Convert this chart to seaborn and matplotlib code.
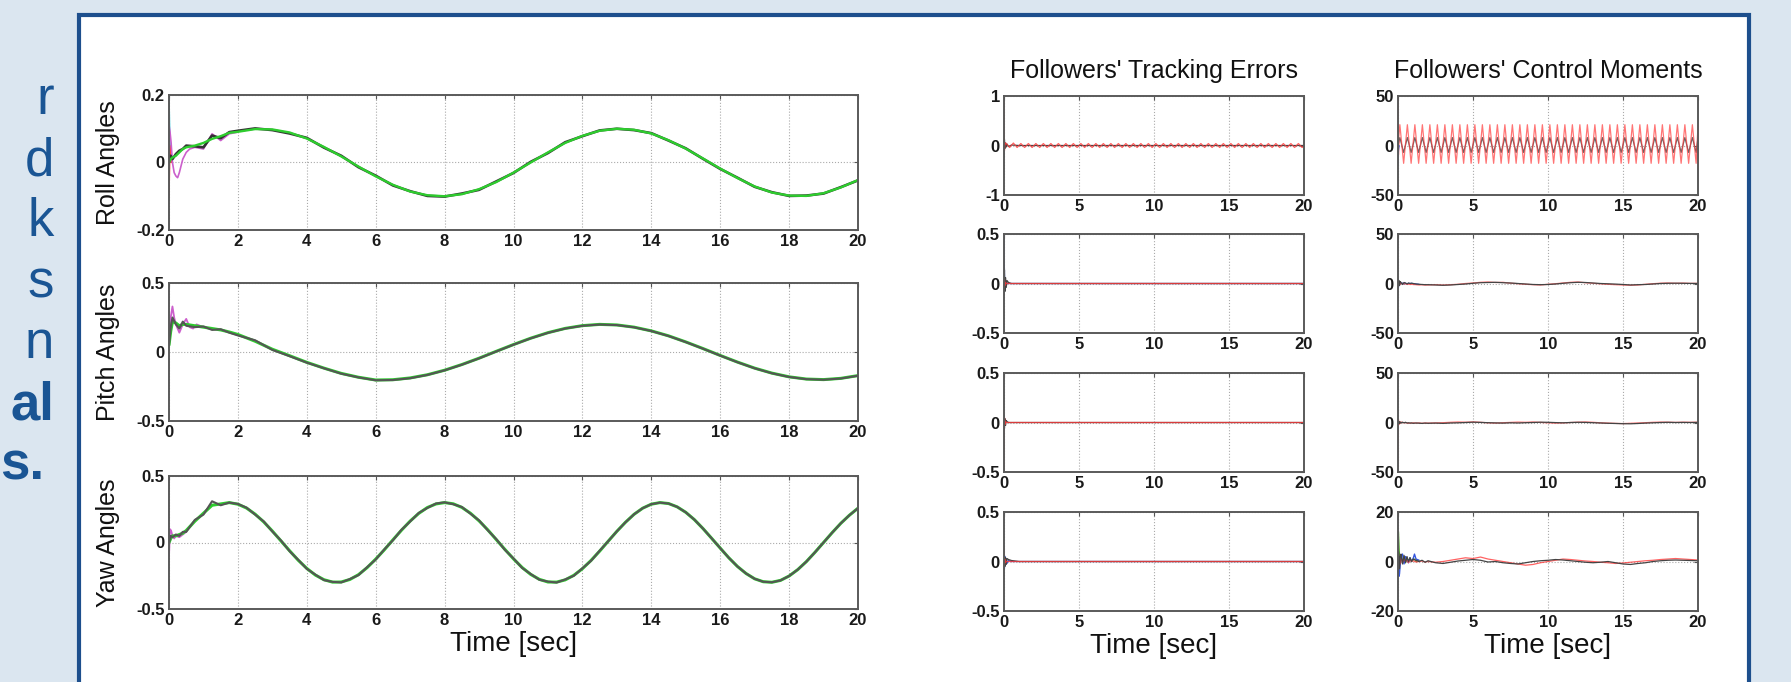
import numpy as np
import matplotlib
matplotlib.use("Agg")
import matplotlib.pyplot as plt
from matplotlib.patches import Rectangle
import seaborn as sns

# ---------------- data ----------------
# left column: leader/follower attitude angles
t_early = [0, 0.05, 0.1, 0.2, 0.3, 0.4, 0.5, 0.75, 1.0, 1.25, 1.5, 1.75]
t_left = np.concatenate([t_early, np.arange(2.0, 20.01, 0.5)])
t_yaw = np.concatenate([t_early, np.arange(2.0, 20.01, 0.25)])

roll_green = [0.0, 0.01, 0.015, 0.02, 0.03, 0.04, 0.045, 0.05, 0.058, 0.07, 0.078, 0.088,
              0.091, 0.099, 0.098, 0.089, 0.071, 0.046, 0.018, -0.012, -0.041, -0.066,
              -0.086, -0.097, -0.100, -0.094, -0.079, -0.058, -0.030, 0.000, 0.030, 0.058,
              0.079, 0.094, 0.100, 0.097, 0.086, 0.066, 0.041, 0.012, -0.018, -0.046,
              -0.071, -0.089, -0.098, -0.099, -0.091, -0.074, -0.052]
roll_dark = [0.0, 0.02, 0.01, 0.025, 0.035, 0.04, 0.05, 0.048, 0.045, 0.08, 0.072, 0.09,
             0.094, 0.101, 0.096, 0.086, 0.073, 0.044, 0.020, -0.014, -0.039, -0.068,
             -0.085, -0.099, -0.101, -0.092, -0.081, -0.056, -0.031, 0.002, 0.028, 0.060,
             0.078, 0.095, 0.100, 0.096, 0.087, 0.065, 0.042, 0.011, -0.019, -0.045,
             -0.072, -0.088, -0.099, -0.098, -0.092, -0.073, -0.053]
t_roll_mag = [0, 0.03, 0.06, 0.1, 0.15, 0.2, 0.25, 0.3, 0.35, 0.4, 0.5, 0.6, 0.75, 1.0, 1.25, 1.5, 1.75, 2.0]
roll_mag = [0.11, 0.09, 0.06, 0.0, -0.03, -0.04, -0.045, -0.03, -0.01, 0.01, 0.03, 0.04,
            0.045, 0.04, 0.085, 0.065, 0.085, 0.09]
t_spike = [0, 0.03, 0.07]
roll_cyan = [0.2, 0.06, 0.02]
roll_red = [-0.1, 0.05, 0.0]

pitch_green = [0.05, 0.15, 0.22, 0.21, 0.19, 0.2, 0.2, 0.19, 0.18, 0.17, 0.16, 0.145,
               0.127, 0.078, 0.020, -0.027, -0.075, -0.117, -0.155, -0.183, -0.203,
               -0.201, -0.188, -0.165, -0.132, -0.091, -0.045, 0.005, 0.054, 0.100, 0.140,
               0.171, 0.191, 0.200, 0.196, 0.180, 0.153, 0.117, 0.073, 0.025, -0.025,
               -0.073, -0.117, -0.153, -0.180, -0.196, -0.200, -0.191, -0.171]
pitch_dark = [0.05, 0.18, 0.25, 0.2, 0.17, 0.22, 0.19, 0.18, 0.185, 0.16, 0.165, 0.14,
              0.12, 0.085, 0.015, -0.03, -0.077, -0.118, -0.157, -0.184, -0.205,
              -0.203, -0.19, -0.166, -0.133, -0.092, -0.046, 0.004, 0.053, 0.099, 0.139,
              0.170, 0.190, 0.199, 0.195, 0.179, 0.152, 0.116, 0.072, 0.024, -0.026,
              -0.074, -0.118, -0.154, -0.181, -0.197, -0.201, -0.192, -0.172]
t_pitch_mag = [0, 0.05, 0.1, 0.15, 0.2, 0.3, 0.4, 0.5, 0.6, 0.7, 0.8, 1.0]
pitch_mag = [0.1, 0.25, 0.33, 0.25, 0.2, 0.14, 0.2, 0.24, 0.18, 0.17, 0.2, 0.18]

yaw_green = [0.0, 0.03, 0.05, 0.05, 0.06, 0.07, 0.09, 0.16, 0.22, 0.28, 0.29, 0.30,
             0.288, 0.259, 0.213, 0.155, 0.086, 0.012, -0.062, -0.133,
             -0.195, -0.245, -0.280, -0.298, -0.297, -0.278, -0.242, -0.189,
             -0.125, -0.055, 0.020, 0.093, 0.161, 0.219, 0.263, 0.290,
             0.300, 0.291, 0.264, 0.220, 0.163, 0.096, 0.022, -0.052,
             -0.123, -0.188, -0.240, -0.277, -0.297, -0.298, -0.281, -0.247,
             -0.197, -0.135, -0.065, 0.010, 0.084, 0.152, 0.212, 0.258,
             0.288, 0.300, 0.293, 0.268, 0.227, 0.172, 0.105, 0.032,
             -0.042, -0.115, -0.180, -0.233, -0.273, -0.295, -0.299, -0.285,
             -0.252, -0.204, -0.144, -0.074, 0.000, 0.074, 0.144, 0.205, 0.258]
yaw_dark = [0.0, 0.05, 0.04, 0.06, 0.05, 0.08, 0.08, 0.17, 0.21, 0.31, 0.28, 0.30,
            0.29, 0.262, 0.21, 0.158, 0.083, 0.015, -0.065, -0.13,
            -0.198, -0.242, -0.283, -0.296, -0.30, -0.275, -0.245, -0.186,
            -0.128, -0.052, 0.017, 0.096, 0.158, 0.222, 0.26, 0.293,
            0.302, 0.288, 0.267, 0.217, 0.166, 0.093, 0.025, -0.055,
            -0.12, -0.191, -0.237, -0.280, -0.294, -0.301, -0.278, -0.25,
            -0.194, -0.138, -0.062, 0.010, 0.084, 0.152, 0.212, 0.258,
            0.288, 0.300, 0.293, 0.268, 0.227, 0.172, 0.105, 0.032,
            -0.042, -0.115, -0.180, -0.233, -0.273, -0.295, -0.299, -0.285,
            -0.252, -0.204, -0.144, -0.074, 0.000, 0.074, 0.144, 0.205, 0.258]
t_yaw_mag = [0, 0.03, 0.06, 0.1, 0.15, 0.2, 0.3, 0.4, 0.5]
yaw_mag = [-0.1, 0.1, 0.09, 0.05, 0.03, 0.05, 0.04, 0.06, 0.08]

# right columns
t_osc = np.concatenate([[0], np.arange(0.125, 20, 0.25), [20]])
t_right = np.concatenate([[0, 0.03, 0.06, 0.1, 0.15, 0.2, 0.3, 0.4, 0.5, 0.6, 0.7, 0.8,
                           0.9, 1.0, 1.2, 1.4, 1.6, 1.8], np.arange(2.0, 20.01, 0.5)])
t_short = [0, 0.03, 0.06, 0.1, 0.15, 0.2, 0.3, 0.5, 1.0, 20]
t_init = [0, 0.03, 0.06, 0.1, 0.15, 0.2, 0.3, 0.4, 0.5, 0.6, 0.7, 0.8, 0.9, 1.0, 1.1, 1.2, 1.4]

# tracking errors
te1_red = [0,
           0.05, -0.04, 0.05, -0.04, 0.04, -0.04, 0.04, -0.04,
           0.04, -0.04, 0.04, -0.04, 0.04, -0.04, 0.04, -0.04,
           0.04, -0.04, 0.04, -0.04, 0.04, -0.04, 0.04, -0.04,
           0.04, -0.04, 0.04, -0.04, 0.04, -0.04, 0.04, -0.04,
           0.04, -0.04, 0.04, -0.04, 0.04, -0.04, 0.04, -0.04,
           0.04, -0.04, 0.04, -0.04, 0.04, -0.04, 0.04, -0.04,
           0.04, -0.04, 0.04, -0.04, 0.04, -0.04, 0.04, -0.04,
           0.04, -0.04, 0.04, -0.04, 0.04, -0.04, 0.04, -0.04,
           0.04, -0.04, 0.04, -0.04, 0.04, -0.04, 0.04, -0.04,
           0.04, -0.04, 0.04, -0.04, 0.04, -0.04, 0.04, -0.04,
           0]
te1_spike_red = [0.9, -0.1, 0.05]
te1_dark = [-0.25, 0.12, -0.06, 0.05, -0.03, 0.03, -0.02, 0.01, 0.0, 0.0]
te2_blue = [0.5, 0.1, -0.05, 0.02, 0.0, 0.0, 0.0, 0.0, 0.0, 0.0]
te2_dark = [-0.12, 0.14, -0.08, 0.06, -0.04, 0.03, 0.01, 0.0, 0.0, 0.0]
te2_red = [-0.05, 0.04, -0.02, 0.01, 0.0, 0.0, 0.0, 0.0, 0.0, 0.0]
te3_red = [-0.5, 0.05, -0.02, 0.01, 0.0, 0.0, 0.0, 0.0, 0.0, 0.0]
te3_dark = [0.08, -0.06, 0.04, -0.03, 0.02, 0.01, 0.0, 0.0, 0.0, 0.0]
te4_red = [0.15, -0.03, 0.02, -0.01, 0.0, 0.0, 0.0, 0.0, 0.0, 0.0]
te4_dark = [-0.06, 0.06, -0.05, 0.04, -0.03, 0.03, 0.02, 0.01, 0.0, 0.0]
te4_blue = [0.0, -0.07, 0.05, -0.03, 0.03, -0.02, 0.01, 0.0, 0.0, 0.0]

# control moments
cm1_red = [0,
           21, -18, 21, -18, 21, -18, 21, -18,
           21, -18, 21, -18, 21, -18, 21, -18,
           21, -18, 21, -18, 21, -18, 21, -18,
           21, -18, 21, -18, 21, -18, 21, -18,
           21, -18, 21, -18, 21, -18, 21, -18,
           21, -18, 21, -18, 21, -18, 21, -18,
           21, -18, 21, -18, 21, -18, 21, -18,
           21, -18, 21, -18, 21, -18, 21, -18,
           21, -18, 21, -18, 21, -18, 21, -18,
           21, -18, 21, -18, 21, -18, 21, -18,
           20]
cm1_dark = [0,
            8, -7, 8, -7, 8, -7, 8, -7,
            8, -7, 8, -7, 8, -7, 8, -7,
            8, -7, 8, -7, 8, -7, 8, -7,
            8, -7, 8, -7, 8, -7, 8, -7,
            8, -7, 8, -7, 8, -7, 8, -7,
            8, -7, 8, -7, 8, -7, 8, -7,
            8, -7, 8, -7, 8, -7, 8, -7,
            8, -7, 8, -7, 8, -7, 8, -7,
            8, -7, 8, -7, 8, -7, 8, -7,
            8, -7, 8, -7, 8, -7, 8, -7,
            8]
cm1_spike_red = [48, -10, 5]
cm1_spike_blue = [-20, -5, 0]

cm2_dark = [4, -3, 3, -2, 2, 1, -1, 1, 0.5, -0.5, 0.5, 0, 0.3, 0, -0.5, -0.8, -1, -1.2,
            -1.2, -1.5, -1.8, -1.5, -1, -0.5, 0.2, 0.8, 1, 1.2, 0.8, 0.5, 0, -0.5, -1,
            -1.2, -1, -0.5, 0.2, 0.8, 1.2, 1.0, 0.5, 0, -0.3, -0.6, -1, -1.5, -1.2, -1,
            -0.5, 0, 0.2, 0.3, 0.2, 0.1, 0]
cm2_red = [-3, 2, -2, 1.5, -1, 0.5, 0, -0.5, 0, -1, -0.5, -1, -0.8, -1, -1.2, -1.5, -1.3, -1.6,
           -1.5, -1.2, -1.6, -1.2, -0.8, 0, 0.5, 1.2, 1.5, 1.0, 1.2, 0.3, -0.2, -0.8, -1.2,
           -1.5, -0.8, -0.2, 0.5, 1.2, 1.5, 0.8, 0.2, -0.3, -0.8, -1.2, -1.5, -1.8, -1.5, -0.8,
           -0.2, 0.3, 0.5, 0.2, 0.4, 0.1, 0.2]
cm2_blue = [5, -4, 2, -1, 1, 0, 0.5, -0.5, 0.3, -0.3, 0.2, 0, 0.2, 0, -0.3, -0.5, -0.8]

cm3_dark = [2, -1.5, 1, -1, 0.5, -0.5, 0.3, -0.3, 0.2, -0.5, -0.3, -0.6, -0.4, -0.8, -0.5, -0.7, -0.9, -0.6,
            -0.8, -0.6, -0.9, -0.5, -0.3, 0, 0.3, 0.1, -0.2, -0.4, -0.6, -0.3, -0.5, -0.2, 0,
            0.3, 0.2, -0.1, -0.3, 0, 0.2, 0.1, -0.2, -0.5, -0.8, -1, -1.2, -1.3, -1, -0.6,
            -0.3, 0, 0.2, 0, 0.1, 0, 0.1]
cm3_red = [-45, 3, -2, 1, -1, 0.5, 0, -0.3, 0, -0.5, -0.8, -0.5, -0.7, -0.3, -0.6, -0.4, -0.8, -0.5,
           -0.6, -0.4, -0.2, 0.2, 0.5, 0.3, 0.6, 0.2, -0.3, -0.6, -0.2, 0.1, 0.4, 0.2, 0.5,
           0.1, -0.3, -0.6, -0.4, 0, 0.3, 0.5, 0.2, -0.3, -0.6, -0.9, -1.1, -0.8, -0.5, -0.2,
           0.2, 0.4, 0.3, 0.1, 0.3, 0.2, 0.3]

cm4_dark = [0, 4, 3, -3, 2, 3, -1, 2.5, -0.5, 2, 0, 1.5, 0, 1, 0.5, 0, 0.5, -0.3,
            0.3, -0.5, -0.8, -0.3, 0.2, 0.5, 0.8, 0.5, -0.2, 0, -0.5, -0.8, -1, -0.5, 0,
            0.3, 0.5, 0.8, 0.6, 0.3, 0, -0.3, -0.5, -0.3, 0, -0.5, -1, -1.2, -0.8, -0.5,
            0, 0.3, 0.5, 0.6, 0.5, 0.4, 0.3]
cm4_red = [0, 3, -2, 1, -1, 1.5, -0.5, 1, 0, 0.5, -0.5, 0.5, 0, 0.3, -0.2, 0, 0.2, -0.2,
           0, -0.3, 0, 0.5, 1.0, 1.5, 1.2, 1.8, 1.0, 0.5, 0, -0.5, -1.0, -1.5, -1.2, -0.5,
           0, 0.5, 1.0, 0.8, 0.5, 0.2, 0, -0.3, -0.5, -0.8, -0.6, -0.3, 0, 0.3, 0.5, 0.8,
           1.0, 1.2, 1.0, 0.8, 0.6]
cm4_green = [0, 12, 8, 2, -1, 1, 0.5, 2, -0.5, 1, 0, 1.5, 0, 0.5, 1, 0, 0.5]
cm4_blue = [0, -4, -6, -5, -1, 2, 3, -1, 2, 1, -0.5, 1.5, 0, 1, 3, 1, 0.5]

# axis ticks / labels
left_xticks = [0, 2, 4, 6, 8, 10, 12, 14, 16, 18, 20]
left_xlabels = ['0', '2', '4', '6', '8', '10', '12', '14', '16', '18', '20']
right_xticks = [0, 5, 10, 15, 20]
right_xlabels = ['0', '5', '10', '15', '20']
left_ylabels = ['Roll Angles', 'Pitch Angles', 'Yaw Angles']
left_ylims = [0.2, 0.5, 0.5]
left_yticklabels = [['-0.2', '0', '0.2'], ['-0.5', '0', '0.5'], ['-0.5', '0', '0.5']]
te_ylims = [1, 0.5, 0.5, 0.5]
te_yticklabels = [['-1', '0', '1'], ['-0.5', '0', '0.5'], ['-0.5', '0', '0.5'], ['-0.5', '0', '0.5']]
cm_ylims = [50, 50, 50, 20]
cm_yticklabels = [['-50', '0', '50'], ['-50', '0', '50'], ['-50', '0', '50'], ['-20', '0', '20']]
side_text = ['r', 'd', 'k', 's', 'n', 'al', 's.']
side_bold = [False, False, False, False, False, True, True]

# ---------------- styling ----------------
sns.set_theme(style='white')
plt.rcParams['font.family'] = ['Liberation Sans', 'DejaVu Sans']

W, H = 1791, 682
BG = '#dbe6f0'
NAVY = '#1d4f8d'
GREEN = '#2ecc2e'
DARK = '#444444'
MAG = '#cc5fcc'
RED = '#ff3b3b'
BLUE = '#3355dd'
CYAN = '#44ccdd'

fig = plt.figure(figsize=(W / 100, H / 100), dpi=100, facecolor=BG)
panel = Rectangle((79 / W, -0.05), (1749 - 79) / W, 1 - 15 / H + 0.05,
                  transform=fig.transFigure, facecolor='white', edgecolor=NAVY,
                  linewidth=3, zorder=-10)
fig.patches.append(panel)

# cropped poster text on the left
side_y = [114, 175, 236, 297, 358, 419, 479]
side_x = [54, 54, 54, 54, 54, 54, 44]
for s, b, y, x in zip(side_text, side_bold, side_y, side_x):
    fig.text(x / W, 1 - y / H, s, ha='right', va='baseline', fontsize=38,
             color='#1a5594', fontweight='bold' if b else 'normal')


def px_axes(x0, top, w, h):
    return fig.add_axes([x0 / W, 1 - (top + h) / H, w / W, h / H])


def style(ax, lim, ylabs, xticks, xlabs):
    ax.set_xlim(0, 20)
    ax.set_ylim(-lim, lim)
    ax.set_xticks(xticks, xlabs, fontweight='bold')
    ax.set_yticks([-lim, 0, lim], ylabs, fontweight='bold')
    ax.tick_params(direction='in', length=3, width=0.8, top=True, right=True,
                   color='#555555', labelcolor='#1a1a1a', labelsize=12, pad=3)
    ax.grid(True, linestyle=':', color='#aaaaaa', linewidth=0.8)
    ax.set_axisbelow(True)
    for sp in ax.spines.values():
        sp.set_color('#5a5a5a')
        sp.set_linewidth(1.4)


def line(ax, x, y, color, lw=1.0, alpha=1.0):
    sns.lineplot(x=np.asarray(x, dtype=float), y=np.asarray(y, dtype=float), ax=ax,
                 color=color, linewidth=lw, alpha=alpha, estimator=None, sort=False)


# left column
left_tops = [95, 283, 476]
left_h = [135, 138, 133]
left_axes = [px_axes(169, t, 689, h) for t, h in zip(left_tops, left_h)]

ax = left_axes[0]
line(ax, t_spike, roll_cyan, CYAN, 1.0)
line(ax, t_spike, roll_red, RED, 1.0)
line(ax, t_roll_mag, roll_mag, MAG, 1.2)
line(ax, t_left, roll_dark, '#333333', 1.9)
line(ax, t_left, roll_green, GREEN, 1.7)

ax = left_axes[1]
line(ax, t_pitch_mag, pitch_mag, MAG, 1.3)
line(ax, t_left, pitch_green, GREEN, 2.2)
line(ax, t_left, pitch_dark, '#555555', 1.5)

ax = left_axes[2]
line(ax, t_yaw_mag, yaw_mag, MAG, 1.3)
line(ax, t_yaw, yaw_green, GREEN, 2.2)
line(ax, t_yaw, yaw_dark, '#555555', 1.5)

for ax, lim, labs, name in zip(left_axes, left_ylims, left_yticklabels, left_ylabels):
    style(ax, lim, labs, left_xticks, left_xlabels)
    ax.set_ylabel(name, fontsize=18, color='#111111')
    ax.yaxis.set_label_coords(-0.071, 0.5)
left_axes[2].set_xlabel('Time [sec]', fontsize=20, color='#111111', labelpad=2)

# right columns
right_tops = [96, 234, 373, 512]
te_axes = [px_axes(1004, t, 300, 99) for t in right_tops]
cm_axes = [px_axes(1398, t, 300, 99) for t in right_tops]

line(te_axes[0], t_short, te1_dark, DARK, 0.9)
line(te_axes[0], t_osc, te1_red, RED, 0.9, 0.8)
line(te_axes[0], t_spike, te1_spike_red, RED, 0.9, 0.8)
line(te_axes[1], t_short, te2_blue, BLUE, 0.9)
line(te_axes[1], t_short, te2_dark, DARK, 0.9)
line(te_axes[1], t_short, te2_red, RED, 0.9, 0.8)
line(te_axes[2], t_short, te3_dark, DARK, 0.9)
line(te_axes[2], t_short, te3_red, RED, 0.9, 0.8)
line(te_axes[3], t_short, te4_blue, BLUE, 0.9)
line(te_axes[3], t_short, te4_dark, DARK, 0.9)
line(te_axes[3], t_short, te4_red, RED, 0.9, 0.8)

line(cm_axes[0], t_osc, cm1_dark, '#666666', 0.9)
line(cm_axes[0], t_osc, cm1_red, RED, 0.9, 0.7)
line(cm_axes[0], t_spike, cm1_spike_red, RED, 0.9, 0.75)
line(cm_axes[0], t_spike, cm1_spike_blue, BLUE, 0.9)
line(cm_axes[1], t_init, cm2_blue, BLUE, 0.9)
line(cm_axes[1], t_right, cm2_red, RED, 0.9, 0.75)
line(cm_axes[1], t_right, cm2_dark, DARK, 0.9)
line(cm_axes[2], t_right, cm3_red, RED, 0.9, 0.75)
line(cm_axes[2], t_right, cm3_dark, DARK, 0.9)
line(cm_axes[3], t_init, cm4_green, '#55aa33', 0.9)
line(cm_axes[3], t_init, cm4_blue, BLUE, 1.0)
line(cm_axes[3], t_right, cm4_red, RED, 0.9, 0.8)
line(cm_axes[3], t_right, cm4_dark, DARK, 0.9)

for ax, lim, labs in zip(te_axes, te_ylims, te_yticklabels):
    style(ax, lim, labs, right_xticks, right_xlabels)
for ax, lim, labs in zip(cm_axes, cm_ylims, cm_yticklabels):
    style(ax, lim, labs, right_xticks, right_xlabels)

te_axes[0].set_title("Followers' Tracking Errors", fontsize=18, color='#111111', pad=13)
cm_axes[0].set_title("Followers' Control Moments", fontsize=18, color='#111111', pad=13)
te_axes[3].set_xlabel('Time [sec]', fontsize=20, color='#111111', labelpad=2)
cm_axes[3].set_xlabel('Time [sec]', fontsize=20, color='#111111', labelpad=2)

fig.savefig('out.png', dpi=100, facecolor=BG)
